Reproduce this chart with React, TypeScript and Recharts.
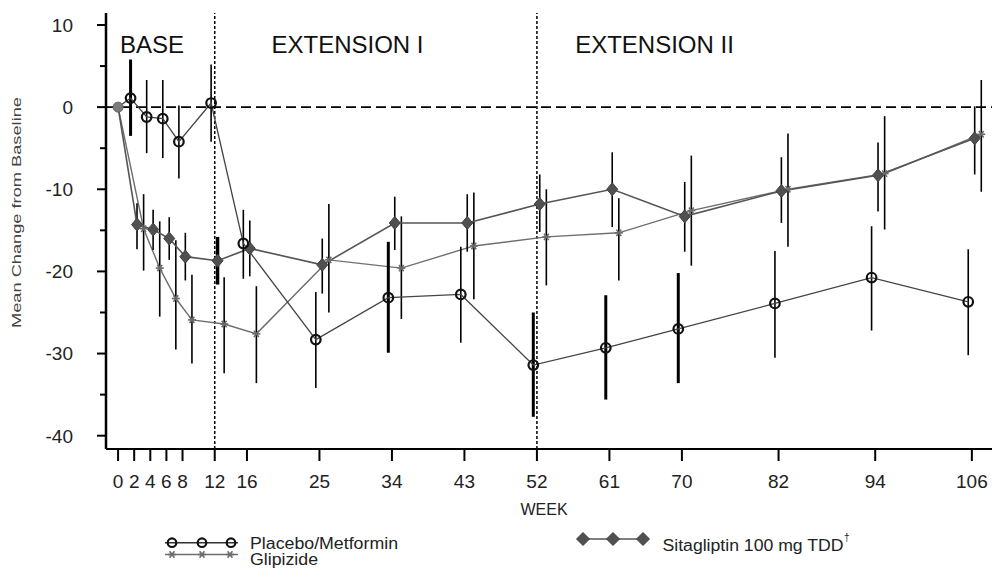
import React from 'react';
import { LineChart, Line, XAxis, YAxis, ErrorBar, ReferenceLine } from 'recharts';

// ---------- data ----------
const weeks = [0, 2, 4, 6, 8, 12, 16, 25, 34, 43, 52, 61, 70, 82, 94, 106];

const placeboMean = [0, 1.1, -1.2, -1.4, -4.2, 0.5, -16.6, -28.3, -23.2, -22.8, -31.4, -29.3, -27.0, -23.9, -20.75, -23.7];
const placeboLow = [null, -3.5, -5.6, -6.2, -8.7, -4.2, -20.9, -34.2, -29.9, -28.7, -37.7, -35.6, -33.6, -30.5, -27.2, -30.2];
const placeboHigh = [null, 5.8, 3.3, 3.3, 0.2, 5.2, -12.5, -22.5, -16.4, -17.0, -25.0, -22.9, -20.2, -17.5, -14.5, -17.3];

const sitaMean = [0, -14.3, -14.9, -16.0, -18.2, -18.7, -17.2, -19.2, -14.1, -14.1, -11.8, -10.0, -13.3, -10.2, -8.3, -3.8];
const sitaLow = [null, -17.3, -17.4, -18.6, -21.1, -21.6, -20.6, -22.7, -17.4, -17.6, -15.2, -14.6, -17.6, -14.1, -12.7, -8.2];
const sitaHigh = [null, -11.7, -12.5, -13.4, -15.3, -15.8, -13.8, -16.0, -10.9, -10.6, -8.2, -5.5, -9.1, -6.1, -4.3, 0.1];

const glipMean = [0, -14.8, -19.6, -23.3, -25.9, -26.4, -27.6, -18.6, -19.6, -16.9, -15.8, -15.3, -12.6, -10.0, -8.1, -3.3];
const glipLow = [null, -19.9, -25.5, -29.5, -31.2, -32.4, -33.6, -25.0, -25.8, -23.4, -21.7, -21.1, -19.3, -17.0, -14.9, -10.3];
const glipHigh = [null, -10.6, -13.9, -16.2, -20.4, -20.7, -21.8, -11.8, -13.3, -10.4, -10.0, -11.1, -5.9, -3.2, -1.1, 3.3];

const placeboThickWeeks = [2, 34, 52, 61, 70];
const sitaThickWeeks = [12];
const glipThickWeeks: number[] = [];

const yMajorTicks = [10, 0, -10, -20, -30, -40];
const yMinorTicks = [5, -5, -15, -25, -35];
const phaseBreakWeeks = [12, 52];
const phaseLabels = ['BASE', 'EXTENSION I', 'EXTENSION II'];

const seriesNames = ['Placebo/Metformin', 'Glipizide', 'Sitagliptin 100 mg TDD'];

// ---------- layout / style ----------
const W = 993;
const H = 568;
const FONT = '"Liberation Sans", Arial, Helvetica, sans-serif';
const DODGE = { placebo: -0.45, sita: 0.35, glip: 1.17 };
const Y_TICK_SIZE = 9;

function buildSeries(mean: number[], low: (number | null)[], high: (number | null)[], dodge: number, thickWeeks: number[]) {
  return weeks.map((w, i) => {
    const lo = low[i];
    const hi = high[i];
    const err = lo == null || hi == null ? undefined : [mean[i] - lo, hi - mean[i]];
    const thick = thickWeeks.includes(w);
    return {
      week: w,
      x: w === 0 ? 0 : w + dodge,
      y: mean[i],
      errThin: thick ? undefined : err,
      errThick: thick ? err : undefined,
    };
  });
}

const placeboData = buildSeries(placeboMean, placeboLow, placeboHigh, DODGE.placebo, placeboThickWeeks);
const sitaData = buildSeries(sitaMean, sitaLow, sitaHigh, DODGE.sita, sitaThickWeeks);
const glipData = buildSeries(glipMean, glipLow, glipHigh, DODGE.glip, glipThickWeeks);

// ---------- markers ----------
const CircleMark = ({ cx, cy, r = 4.8 }: any) => (
  <circle cx={cx} cy={cy} r={r} fill="none" stroke="#111" strokeWidth={2.2} />
);
const DiamondMark = ({ cx, cy, hw = 5.5, hh = 6.5 }: any) => (
  <polygon
    points={`${cx},${cy - hh} ${cx + hw},${cy} ${cx},${cy + hh} ${cx - hw},${cy}`}
    fill="#505050"
    stroke="#404040"
    strokeWidth={1}
  />
);
const StarMark = ({ cx, cy, s = 4 }: any) => (
  <g stroke="#6a6a6a" strokeWidth={1.6}>
    <line x1={cx - s} y1={cy} x2={cx + s} y2={cy} />
    <line x1={cx - s * 0.6} y1={cy - s * 0.8} x2={cx + s * 0.6} y2={cy + s * 0.8} />
    <line x1={cx - s * 0.6} y1={cy + s * 0.8} x2={cx + s * 0.6} y2={cy - s * 0.8} />
  </g>
);

const placeboDot = (p: any) => {
  const { cx, cy, payload, index } = p;
  if (cx == null || cy == null) return <g key={`pd-${index}`} />;
  if (payload.week === 0)
    return <circle key={`pd-${index}`} cx={cx} cy={cy} r={5} fill="#7a7a7a" stroke="#666" strokeWidth={1} />;
  return <CircleMark key={`pd-${index}`} cx={cx} cy={cy} />;
};
const sitaDot = (p: any) => {
  const { cx, cy, payload, index } = p;
  if (cx == null || cy == null || payload.week === 0) return <g key={`sd-${index}`} />;
  return <DiamondMark key={`sd-${index}`} cx={cx} cy={cy} />;
};
const glipDot = (p: any) => {
  const { cx, cy, payload, index } = p;
  if (cx == null || cy == null || payload.week === 0) return <g key={`gd-${index}`} />;
  return <StarMark key={`gd-${index}`} cx={cx} cy={cy} />;
};

const YTick = (props: any) => {
  const { x, y, payload } = props;
  const axisX = x + Y_TICK_SIZE;
  const major = yMajorTicks.includes(payload.value);
  return (
    <g>
      <line x1={axisX - (major ? 9 : 6)} x2={axisX} y1={y} y2={y} stroke="#000" strokeWidth={2} />
      {major && (
        <text x={axisX - 33} y={y} dy="0.36em" textAnchor="end" fontSize={19} fill="#222" fontFamily={FONT}>
          {payload.value}
        </text>
      )}
    </g>
  );
};

export default function App() {
  const yTicks = [...yMajorTicks, ...yMinorTicks].sort((a, b) => b - a);
  return (
    <div style={{ position: 'absolute', left: 0, top: 0, width: W, height: H, background: '#fff' }}>
      <LineChart width={W} height={H} margin={{ top: 13, right: 1, bottom: 89, left: 0 }}>
        <XAxis
          type="number"
          dataKey="x"
          domain={[-1.5, 108.5]}
          allowDataOverflow
          ticks={weeks}
          interval={0}
          height={30}
          tickSize={12}
          tickMargin={14}
          axisLine={{ stroke: '#000', strokeWidth: 2 }}
          tickLine={{ stroke: '#000', strokeWidth: 2 }}
          tick={{ fontSize: 19, fill: '#222', fontFamily: FONT }}
        />
        <YAxis
          type="number"
          domain={[-41.62, 11.46]}
          allowDataOverflow
          ticks={yTicks}
          interval={0}
          width={106}
          tickSize={Y_TICK_SIZE}
          tickMargin={0}
          tickLine={false}
          axisLine={{ stroke: '#000', strokeWidth: 2.5 }}
          tick={<YTick />}
        />
        <ReferenceLine y={0} stroke="#000" strokeWidth={1.6} strokeDasharray="10 5" />
        {phaseBreakWeeks.map((w) => (
          <ReferenceLine key={`vb-${w}`} x={w} stroke="#000" strokeWidth={1.5} strokeDasharray="3 2" />
        ))}
        <Line
          data={glipData}
          dataKey="y"
          name={seriesNames[1]}
          type="linear"
          stroke="#6e6e6e"
          strokeWidth={1.4}
          dot={glipDot}
          activeDot={false}
          isAnimationActive={false}
        >
          <ErrorBar dataKey="errThin" direction="y" width={0} stroke="#000" strokeWidth={1.6} isAnimationActive={false} />
          <ErrorBar dataKey="errThick" direction="y" width={0} stroke="#000" strokeWidth={3} isAnimationActive={false} />
        </Line>
        <Line
          data={sitaData}
          dataKey="y"
          name={seriesNames[2]}
          type="linear"
          stroke="#555"
          strokeWidth={1.6}
          dot={sitaDot}
          activeDot={false}
          isAnimationActive={false}
        >
          <ErrorBar dataKey="errThin" direction="y" width={0} stroke="#000" strokeWidth={1.6} isAnimationActive={false} />
          <ErrorBar dataKey="errThick" direction="y" width={0} stroke="#000" strokeWidth={3.5} isAnimationActive={false} />
        </Line>
        <Line
          data={placeboData}
          dataKey="y"
          name={seriesNames[0]}
          type="linear"
          stroke="#444"
          strokeWidth={1.3}
          dot={placeboDot}
          activeDot={false}
          isAnimationActive={false}
        >
          <ErrorBar dataKey="errThin" direction="y" width={0} stroke="#000" strokeWidth={1.6} isAnimationActive={false} />
          <ErrorBar dataKey="errThick" direction="y" width={0} stroke="#000" strokeWidth={3} isAnimationActive={false} />
        </Line>
      </LineChart>

      <svg
        width={W}
        height={H}
        style={{ position: 'absolute', left: 0, top: 0, pointerEvents: 'none' }}
        fontFamily={FONT}
      >
        {/* phase labels */}
        <text x={152} y={53} textAnchor="middle" fontSize={24} fill="#111">{phaseLabels[0]}</text>
        <text x={347.5} y={53} textAnchor="middle" fontSize={24} fill="#111">{phaseLabels[1]}</text>
        <text x={654.5} y={53} textAnchor="middle" fontSize={24} fill="#111">{phaseLabels[2]}</text>

        {/* axis titles */}
        <text x={544} y={515} textAnchor="middle" fontSize={16} fill="#222">WEEK</text>
        <text
          transform="translate(21,212.5) rotate(-90)"
          textAnchor="middle"
          fontSize={12}
          fill="#444"
          textLength={231}
          lengthAdjust="spacingAndGlyphs"
        >
          Mean Change from Baseline
        </text>

        {/* legend */}
        <line x1={165} x2={238} y1={542.7} y2={542.7} stroke="#333" strokeWidth={1.5} />
        {[172, 202, 231].map((cx) => (
          <CircleMark key={`lc-${cx}`} cx={cx} cy={542.7} r={4.3} />
        ))}
        <text x={250} y={548.5} fontSize={16} fill="#222" textLength={148} lengthAdjust="spacingAndGlyphs">
          {seriesNames[0]}
        </text>

        <line x1={165} x2={238} y1={554.5} y2={554.5} stroke="#6e6e6e" strokeWidth={1.4} />
        {[172, 202, 230].map((cx) => (
          <StarMark key={`lg-${cx}`} cx={cx} cy={554.5} s={4} />
        ))}
        <text x={250} y={564.5} fontSize={16} fill="#222" textLength={68} lengthAdjust="spacingAndGlyphs">
          {seriesNames[1]}
        </text>

        <line x1={578} x2={648} y1={539} y2={539} stroke="#555" strokeWidth={1.6} />
        {[583, 613, 643].map((cx) => (
          <DiamondMark key={`ls-${cx}`} cx={cx} cy={539} hw={6.5} hh={6.5} />
        ))}
        <text x={662.5} y={550.5} fontSize={16} fill="#222" textLength={181} lengthAdjust="spacingAndGlyphs">
          {seriesNames[2]}
        </text>
        <text x={844} y={541} fontSize={10} fill="#222">†</text>
      </svg>
    </div>
  );
}
